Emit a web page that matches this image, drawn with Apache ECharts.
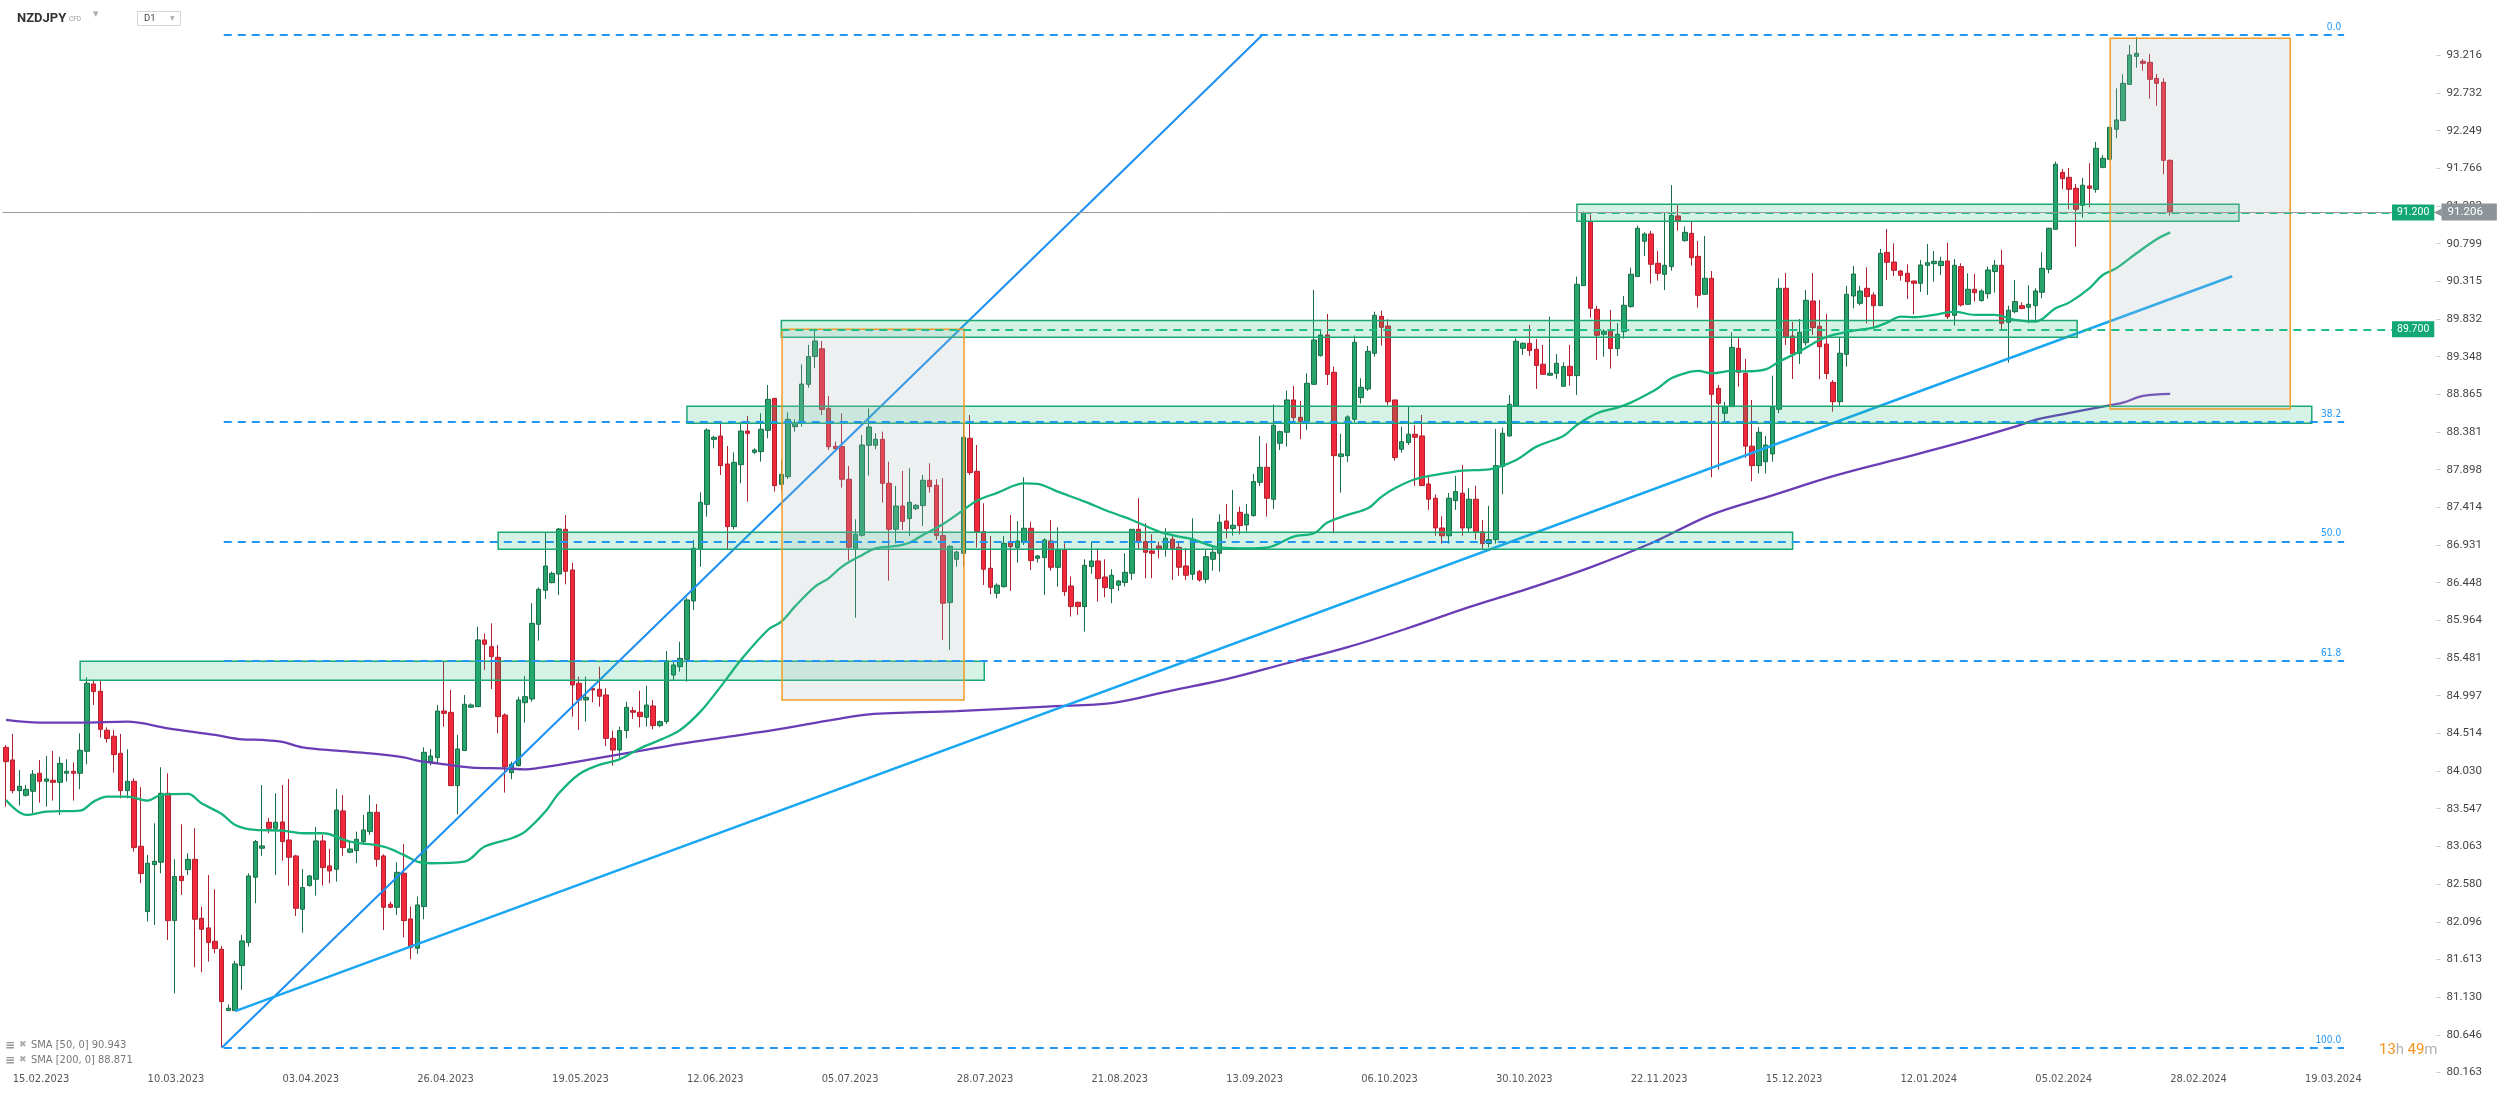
<!DOCTYPE html>
<html><head><meta charset="utf-8">
<script src="https://cdn.jsdelivr.net/npm/echarts@6/dist/echarts.min.js"></script>
<style>html,body{margin:0;padding:0;background:#fff;overflow:hidden}#c{width:2506px;height:1093px}</style>
</head><body><div id="c"></div>
<script>
// ---------- DATA ----------
const opens = [
84.335,84.173,83.779,83.719,83.771,84.002,83.899,83.912,83.886,84.002,
84.027,84.002,84.284,85.148,85.054,84.554,84.477,84.258,83.779,83.899,
83.065,82.227,82.830,82.860,83.745,82.111,82.680,82.766,82.898,82.141,
82.017,81.846,81.743,80.956,80.956,81.534,81.829,82.667,83.040,83.373,
83.296,83.377,83.146,82.941,82.257,82.560,82.641,83.134,82.813,82.770,
83.519,82.988,83.009,83.125,83.253,83.501,82.941,82.321,82.282,82.719,
82.133,81.756,82.291,84.151,84.203,84.801,84.784,83.843,84.293,84.849,
84.857,85.713,85.627,85.490,84.750,84.010,84.100,84.908,84.955,85.914,
86.350,86.448,86.559,87.133,86.611,85.157,84.943,85.092,85.080,85.007,
84.45,84.30,84.55,84.806,84.785,84.720,84.866,84.613,84.665,85.263,
85.370,85.464,86.213,86.876,87.453,88.287,88.330,87.971,87.167,87.962,
88.394,88.121,88.129,88.403,88.813,87.710,87.808,88.450,88.493,88.993,
89.35,89.45,88.685,88.198,88.194,87.775,86.889,87.056,88.211,88.211,
88.288,87.723,87.133,87.432,87.270,87.398,87.437,87.762,87.698,87.052,
86.192,86.748,86.825,88.301,87.877,87.103,86.633,86.312,86.397,86.962,
86.898,86.962,87.146,86.761,86.770,86.983,86.645,86.868,86.406,86.196,
86.141,86.654,86.727,86.521,86.372,86.415,86.45,86.569,87.133,86.975,
86.855,86.919,86.881,87.005,86.902,86.663,86.556,86.590,86.491,86.748,
86.825,87.240,87.142,87.351,87.189,87.308,87.736,87.929,87.518,88.237,
88.378,88.793,88.570,88.515,88.994,89.362,89.627,89.148,88.066,88.078,
88.545,88.823,88.934,89.391,89.866,89.742,88.793,88.160,88.246,88.353,
88.331,87.715,87.532,87.15,87.05,87.501,87.596,87.15,87.519,87.10,
86.95,87.00,87.938,88.331,88.716,89.456,89.520,89.443,89.251,89.110,
89.135,88.968,89.225,89.105,90.260,91.077,89.956,89.636,89.674,89.452,
89.670,89.991,90.376,90.829,90.923,90.547,90.405,90.504,91.154,90.837,
90.931,90.636,90.149,90.354,88.942,88.622,88.707,89.456,89.135,88.20,
87.95,88.00,88.10,88.673,90.226,89.614,89.392,89.528,90.063,89.738,
89.511,89.019,88.771,89.379,90.127,90.033,90.226,90.140,90.003,90.687,
90.563,90.448,90.418,90.320,90.290,90.521,90.542,90.517,90.577,89.879,
90.504,90.021,90.213,90.068,90.157,90.440,90.521,89.790,89.926,90.003,
89.982,90.003,90.175,90.470,90.983,91.714,91.650,91.509,91.291,91.539,
91.496,91.778,91.881,92.266,92.377,92.843,93.203,93.139,93.126,92.920,
92.869,91.868];
const highs = [
84.365,84.506,84.044,83.852,84.044,84.173,84.224,84.288,84.215,84.182,
84.143,84.515,85.234,85.199,85.191,84.592,84.558,84.506,84.310,83.938,
83.822,82.954,83.360,84.079,84.002,82.898,83.347,82.975,83.296,82.291,
82.697,82.513,81.786,81.033,81.594,81.927,82.718,83.146,83.852,83.429,
83.745,83.852,83.929,82.954,82.774,82.697,83.313,83.211,83.031,83.801,
83.724,83.125,83.253,83.467,83.724,83.608,82.962,82.355,82.860,83.095,
82.291,82.419,84.335,84.314,84.879,85.435,85.071,84.494,85.007,84.900,
85.884,85.798,85.926,85.648,84.772,84.151,84.985,85.251,86.183,86.388,
87.090,86.589,87.150,87.316,86.705,85.242,85.242,85.105,85.370,85.092,
84.55,84.60,84.921,84.85,85.062,85.126,84.943,84.678,85.571,85.447,
85.691,86.256,86.996,87.607,88.429,88.334,88.493,88.202,88.121,88.514,
88.587,88.172,88.621,88.985,88.813,88.031,88.634,88.544,89.25,89.50,
89.68,89.55,88.843,88.257,88.621,87.946,87.261,88.343,88.686,88.365,
88.386,88.001,87.689,87.882,87.916,87.458,87.830,87.980,87.775,87.788,
86.932,86.859,88.502,88.600,88.215,87.467,87.047,86.440,87.047,87.317,
87.240,87.800,87.231,86.804,87.018,87.253,87.159,86.953,86.526,86.205,
86.748,86.975,86.889,86.748,86.620,86.483,86.825,87.133,87.531,87.210,
87.069,86.975,87.146,87.069,86.962,86.889,87.274,86.611,86.868,86.919,
87.326,87.458,87.638,87.424,87.458,87.843,88.331,88.237,88.737,88.399,
88.913,88.972,88.780,89.135,90.204,89.691,89.896,89.220,88.357,88.596,
89.618,89.071,89.486,89.926,89.939,89.828,88.793,88.451,88.707,88.472,
88.601,87.818,87.58,87.30,87.60,87.818,87.959,87.660,87.690,87.25,
87.433,88.421,88.438,88.857,89.584,89.533,89.755,89.576,89.499,89.862,
89.383,89.276,89.499,90.376,91.210,91.175,89.999,89.700,89.948,89.777,
90.128,90.491,91.030,90.944,90.962,90.705,91.201,91.55,91.30,91.021,
91.077,90.833,90.897,90.448,88.985,88.767,89.661,89.584,89.319,88.793,
88.442,88.331,89.105,90.354,90.422,89.794,89.832,90.204,90.422,90.076,
89.896,89.05,89.593,90.256,90.512,90.256,90.495,90.174,90.730,90.987,
90.803,90.461,90.533,90.320,90.589,90.794,90.705,90.632,90.812,90.602,
90.547,90.418,90.410,90.213,90.504,90.589,90.718,90.003,90.333,90.046,
90.264,90.226,90.688,91.004,91.851,91.757,91.770,91.565,91.642,91.830,
92.104,91.937,92.292,92.792,92.972,93.348,93.45,93.169,93.233,92.976,
92.920,91.881];
const lows = [
83.574,83.745,83.587,83.702,83.489,83.625,83.574,83.651,83.467,83.895,
83.651,83.797,84.117,84.879,84.459,84.395,84.010,83.681,83.681,82.997,
82.590,82.099,82.056,82.719,81.863,81.179,82.441,82.697,81.513,81.448,
81.585,81.692,80.486,80.956,80.956,81.222,81.778,82.334,82.941,83.232,
82.697,82.881,82.560,82.171,81.957,82.548,82.432,82.560,82.590,82.612,
82.941,82.975,82.847,83.082,83.210,82.804,81.991,82.269,82.184,81.897,
81.615,81.684,82.128,84.100,84.121,84.600,83.843,83.476,84.293,84.849,
84.857,85.328,85.084,84.515,83.754,83.925,84.087,84.652,84.921,85.704,
86.239,86.440,86.290,86.427,84.729,84.558,84.665,84.913,84.857,84.35,
84.10,84.20,84.45,84.70,84.592,84.600,84.566,84.592,84.635,85.199,
85.306,85.178,86.098,86.653,87.295,88.172,87.830,86.880,87.133,87.723,
87.488,88.095,88.001,88.300,87.616,87.624,87.778,88.386,88.45,88.95,
89.20,88.60,88.150,88.150,87.668,86.731,85.999,87.039,87.822,88.160,
87.475,86.474,86.953,87.125,87.048,87.381,87.176,87.604,86.996,85.713,
85.585,86.654,86.654,87.830,86.898,86.419,86.299,86.248,86.385,86.342,
86.705,86.932,86.611,86.705,86.291,86.603,86.397,86.278,86.013,86.034,
85.820,86.560,86.205,86.260,86.184,86.342,86.40,86.483,86.868,86.504,
86.504,86.761,86.782,86.483,86.534,86.483,86.483,86.462,86.440,86.603,
86.590,87.018,87.052,87.069,87.103,87.296,87.689,87.296,87.394,88.151,
88.194,88.502,88.288,88.408,88.985,89.349,88.985,87.082,87.604,87.997,
88.506,88.746,88.908,89.349,89.490,88.729,88.015,88.117,88.216,87.690,
87.694,87.382,87.05,86.95,86.95,87.382,87.05,87.10,87.00,86.88,
86.90,86.95,87.583,88.323,88.716,89.370,89.358,88.934,89.122,89.101,
89.063,88.968,88.977,88.857,90.260,89.850,89.306,89.349,89.195,89.358,
89.580,89.978,90.376,90.641,90.286,90.324,90.204,90.452,90.966,90.824,
90.516,89.977,90.140,87.80,87.90,88.50,88.707,88.964,88.05,87.75,
87.85,87.85,88.00,88.622,89.498,89.062,89.255,89.490,89.627,89.058,
89.058,88.643,88.720,89.220,89.969,90.007,89.776,89.721,90.003,90.332,
90.384,90.324,90.089,89.892,90.179,90.140,90.311,90.397,89.832,89.747,
89.991,90.012,90.055,90.055,90.093,90.170,89.700,89.272,89.905,89.965,
89.777,89.820,90.098,90.418,90.983,91.500,91.240,90.761,91.133,91.265,
91.453,91.766,91.881,92.151,92.377,92.843,93.057,93.019,92.660,92.570,
91.689,91.158];
const closes = [
84.151,83.779,83.835,83.796,83.989,83.899,83.929,83.886,84.130,84.027,
84.002,84.297,85.157,85.050,84.566,84.447,84.241,83.779,83.899,83.048,
82.714,82.847,82.872,83.745,82.111,82.676,82.624,82.898,82.128,82.000,
81.829,81.752,81.072,80.986,81.555,81.850,82.684,83.125,83.070,83.296,
83.373,83.125,82.924,82.269,82.535,82.684,83.134,82.791,82.749,83.531,
83.048,83.031,83.155,83.275,83.501,82.898,82.282,82.282,82.731,82.111,
81.765,82.312,84.271,84.224,84.801,84.771,83.843,84.314,84.887,84.879,
85.713,85.657,85.499,84.729,84.087,84.117,84.943,84.985,85.926,86.363,
86.662,86.568,87.137,86.594,85.135,84.943,84.977,85.071,84.990,84.45,
84.30,84.55,84.849,84.785,84.729,84.878,84.613,84.665,85.443,85.392,
85.477,86.226,86.889,87.479,88.407,88.313,87.950,87.167,87.992,88.394,
88.364,88.151,88.416,88.801,87.693,87.838,88.544,88.501,88.997,89.35,
89.55,88.672,88.193,88.168,87.775,86.902,87.069,88.215,88.446,88.288,
87.723,87.133,87.432,87.236,87.480,87.441,87.762,87.681,87.052,86.184,
86.915,86.842,88.314,87.860,87.103,86.620,86.389,86.415,86.953,86.911,
86.983,87.146,86.731,86.791,86.996,86.645,86.868,86.333,86.141,86.141,
86.671,86.727,86.500,86.385,86.543,86.470,86.581,87.133,86.975,86.838,
86.825,86.881,87.018,86.881,86.646,86.543,87.005,86.483,86.782,86.838,
87.223,87.142,87.185,87.180,87.326,87.745,87.929,87.531,88.468,88.386,
88.793,88.566,88.515,89.007,89.563,89.627,89.122,88.078,88.100,88.575,
89.533,88.955,89.417,89.879,89.725,88.771,88.053,88.258,88.353,88.314,
87.694,87.519,87.15,87.05,87.532,87.617,87.15,87.519,87.10,86.95,
87.00,87.950,88.365,88.737,89.546,89.520,89.426,89.234,89.122,89.135,
89.264,89.221,89.105,90.277,91.197,89.969,89.623,89.674,89.452,89.636,
90.008,90.406,90.996,90.923,90.534,90.418,90.521,91.162,91.094,90.944,
90.619,90.136,90.354,88.865,88.750,88.707,89.468,89.148,88.20,87.95,
88.378,88.215,88.699,90.226,89.605,89.387,89.661,90.072,89.721,89.477,
89.131,88.771,89.392,90.149,90.409,90.191,90.119,90.003,90.675,90.559,
90.457,90.392,90.311,90.290,90.525,90.555,90.572,90.572,89.862,90.521,
90.012,90.213,90.170,90.192,90.461,90.521,89.777,89.944,90.055,89.965,
90.021,90.192,90.482,90.996,91.817,91.633,91.496,91.240,91.548,91.509,
92.022,91.894,92.292,92.386,92.856,93.220,93.241,93.113,92.908,92.856,
91.868,91.206];

// SMA lines read at sample candles: [candle index, value]
const sma50 = [[0,83.660],[3,83.467],[6,83.510],[11,83.523],[13,83.638],[15,83.702],[18,83.702],[21,83.651],[23,83.724],[27,83.737],[29,83.617],[32,83.480],[34,83.339],[37,83.275],[41,83.266],[44,83.232],[47,83.232],[51,83.125],[56,83.061],[59,82.954],[61,82.868],[63,82.847],[68,82.868],[71,83.061],[75,83.168],[77,83.253],[80,83.510],[82,83.745],[85,83.99],[88,84.11],[91,84.18],[94,84.32],[97,84.43],[100,84.558],[103,84.793],[106,85.114],[109,85.456],[113,85.841],[115,85.948],[117,86.140],[120,86.397],[122,86.504],[124,86.654],[127,86.804],[129,86.889],[132,86.919],[134,86.96],[136,87.06],[139,87.20],[142,87.38],[144,87.50],[147,87.60],[151,87.723],[153,87.715],[156,87.616],[160,87.488],[163,87.381],[165,87.317],[167,87.253],[171,87.103],[174,87.039],[176,87.005],[180,86.898],[184,86.889],[187,86.898],[191,87.039],[194,87.082],[196,87.219],[199,87.317],[202,87.402],[204,87.55],[206,87.66],[209,87.775],[212,87.831],[216,87.886],[220,87.903],[224,88.023],[227,88.194],[231,88.331],[233,88.472],[236,88.622],[239,88.695],[241,88.759],[244,88.891],[245,88.943],[247,89.071],[249,89.135],[251,89.165],[253,89.135],[256,89.165],[258,89.16],[261,89.186],[263,89.285],[266,89.413],[269,89.563],[271,89.627],[274,89.682],[277,89.721],[279,89.785],[281,89.862],[283,89.854],[286,89.884],[289,89.927],[292,89.884],[295,89.884],[298,89.820],[301,89.798],[304,89.970],[306,90.042],[309,90.226],[311,90.397],[313,90.482],[316,90.675],[319,90.855],[321,90.943]];
const sma200 = [[0,84.686],[5,84.652],[11,84.652],[18,84.665],[24,84.579],[31,84.494],[35,84.438],[38,84.430],[41,84.404],[44,84.335],[49,84.292],[54,84.258],[59,84.207],[61,84.164],[64,84.130],[69,84.075],[74,84.066],[77,84.053],[79,84.07],[82,84.11],[88,84.20],[94,84.29],[100,84.38],[107,84.47],[114,84.558],[123,84.694],[128,84.758],[141,84.800],[155,84.861],[164,84.902],[173,85.066],[181,85.209],[190,85.414],[199,85.620],[208,85.866],[217,86.133],[226,86.378],[235,86.645],[244,86.953],[253,87.321],[262,87.568],[271,87.814],[280,88.020],[289,88.225],[298,88.45],[301,88.537],[305,88.609],[311,88.708],[314,88.759],[317,88.845],[321,88.871]];

// axis labels
const dateLabels = ['15.02.2023','10.03.2023','03.04.2023','26.04.2023','19.05.2023','12.06.2023','05.07.2023','28.07.2023','21.08.2023','13.09.2023','06.10.2023','30.10.2023','22.11.2023','15.12.2023','12.01.2024','05.02.2024','28.02.2024','19.03.2024'];
const dateLabelIdx = [1,21,41,61,81,101,121,141,161,181,201,221,241,261,281,301,321,341];
const priceTicks = ['80.163','80.646','81.130','81.613','82.096','82.580','83.063','83.547','84.030','84.514','84.997','85.481','85.964','86.448','86.931','87.414','87.898','88.381','88.865','89.348','89.832','90.315','90.799','91.283','91.766','92.249','92.732','93.216'];

// drawings: zones [fromIdx, toIdx, low, high], boxes, trend lines, fib
const zones = [[11.0,145.1,85.195,85.439],[73.0,265.0,86.876,87.094],[101.0,342.0,88.493,88.711],[115.0,307.2,89.597,89.811],[233.0,331.2,91.086,91.304]];
const boxes = [[115.1,142.1,84.943,89.70],[312.1,338.8,88.677,93.434]];
const steepTrend = [[32,80.48],[186.3,93.474]];
const baseTrend = [[34,80.95],[330.2,90.38]];
const fibHigh = 93.474, fibLow = 80.476, fibFrom = 32.3, fibTo = 346.8;
const fibLevels = [0, 38.2, 50, 61.8, 100];
const levelLines = [[234, 353.9, 91.200], [115, 353.9, 89.700]];
const lastPrice = 91.206;
const smaLegend = ['SMA [50, 0] 90.943', 'SMA [200, 0] 88.871'];

// ---------- CHART ----------
const candleData = opens.map((o, i) => [i, o, closes[i], lows[i], highs[i]]);
const tickVals = priceTicks.map(Number);
const condensed = '"DejaVu Sans Condensed","Liberation Sans Narrow",sans-serif';

const zoneItems = zones.map(z => [
  {coord: [z[0], z[3]], itemStyle: {color: 'rgba(24,186,120,0.19)', borderColor: '#1aa872', borderWidth: 1.5}},
  {coord: [z[1], z[2]]}
]);
const boxItems = boxes.map(b => [
  {coord: [b[0], b[3]], itemStyle: {color: 'rgba(170,186,192,0.22)', borderColor: '#f59b25', borderWidth: 1.5}},
  {coord: [b[1], b[2]]}
]);
const fibItems = fibLevels.map(l => {
  const p = fibHigh - l / 100 * (fibHigh - fibLow);
  return [
    {coord: [fibFrom, p], lineStyle: {color: '#2196f3', width: 2, type: [8, 6]},
     label: {show: true, formatter: l.toFixed(1), position: 'insideEndTop', distance: 3, color: '#2196f3', fontSize: 10, fontFamily: condensed}},
    {coord: [fibTo, p]}
  ];
});
const levelItems = levelLines.map(l => [
  {coord: [l[0], l[2]], lineStyle: {color: '#1fbf88', width: 2, type: [8, 6]},
   label: {show: true, position: 'end', distance: 0, formatter: l[2].toFixed(3), color: '#fff', backgroundColor: '#11a874', padding: [3, 5, 2, 5], fontSize: 10.5, fontFamily: 'Roboto'}},
  {coord: [l[1], l[2]]}
]);
const priceItem = [
  {coord: [-0.5, lastPrice], lineStyle: {color: '#9a9a9a', width: 1, type: 'solid'},
   label: {show: true, position: 'end', distance: -3, formatter: '{a|◀}{b|' + lastPrice.toFixed(3) + '}',
     rich: {a: {color: '#8c9499', fontSize: 10, padding: [0, 0, 0, 0]},
            b: {color: '#fff', backgroundColor: '#8c9499', fontSize: 11.5, padding: [3, 14, 2, 6], fontFamily: 'Roboto'}}}},
  {coord: [360.5, lastPrice]}
];

const option = {
  animation: false,
  backgroundColor: '#fff',
  grid: {left: 2.63, right: 69.5, top: 0, bottom: 20.6, containLabel: false},
  xAxis: {
    type: 'value', min: -0.5, max: 360.5,
    axisLine: {show: false, onZero: false}, axisTick: {show: false}, splitLine: {show: false},
    axisLabel: {
      customValues: dateLabelIdx,
      formatter: v => { const k = dateLabelIdx.indexOf(Math.round(v)); return k >= 0 ? dateLabels[k] : ''; },
      align: 'left', color: '#555', fontSize: 11, margin: 1, fontFamily: condensed
    }
  },
  yAxis: {
    type: 'value', position: 'right', min: 80.163, max: 93.9257, scale: true,
    axisLine: {show: false, onZero: false}, splitLine: {show: false},
    axisTick: {show: true, customValues: tickVals, length: 4, lineStyle: {color: '#c8c8c8'}},
    axisLabel: {
      customValues: tickVals,
      formatter: v => { let best = '', d = 1e9; priceTicks.forEach(t => { const dd = Math.abs(Number(t) - v); if (dd < d) { d = dd; best = t; } }); return d < 0.01 ? best : ''; },
      color: '#444', fontSize: 11.5, margin: 10, fontFamily: 'Roboto'
    }
  },
  series: [
    {
      type: 'candlestick', data: candleData, encode: {x: 0, y: [1, 2, 3, 4]},
      barWidth: 5, z: 2,
      itemStyle: {color: '#26a46b', color0: '#f2293b', borderColor: '#176e47', borderColor0: '#b01f2e', borderWidth: 1}
    },
    {
      type: 'line', data: sma200, smooth: 0.35, showSymbol: false, z: 3,
      lineStyle: {color: '#6a3db6', width: 2.3}
    },
    {
      type: 'line', data: sma50, smooth: 0.35, showSymbol: false, z: 3,
      lineStyle: {color: '#14b37a', width: 2.3}
    },
    {
      type: 'line', data: steepTrend, showSymbol: false, z: 4,
      lineStyle: {color: '#1b8ef2', width: 2},
      markArea: {silent: true, z: 5, label: {show: false}, data: zoneItems.concat(boxItems)}
    },
    {
      type: 'line', data: baseTrend, showSymbol: false, z: 4,
      lineStyle: {color: '#1aa7f2', width: 2.5},
      markLine: {silent: true, z: 6, symbol: ['none', 'none'], precision: 3,
        data: fibItems.concat(levelItems).concat([priceItem])}
    }
  ],
  graphic: [
    {type: 'text', x: 17, y: 12, style: {text: 'NZDJPY', fill: '#333', font: 'bold 13px Roboto'}},
    {type: 'text', x: 69, y: 15.5, style: {text: 'CFD', fill: '#9a9a9a', font: '6.5px Roboto'}},
    {type: 'text', x: 93, y: 11, style: {text: '▼', fill: '#aaa', font: '7px "DejaVu Sans"'}},
    {type: 'rect', shape: {x: 137.5, y: 11.5, width: 43, height: 14}, style: {fill: '#fff', stroke: '#d5d5d5', lineWidth: 1}},
    {type: 'text', x: 144, y: 14, style: {text: 'D1', fill: '#444', font: '9.5px Roboto'}},
    {type: 'text', x: 170, y: 15, style: {text: '▼', fill: '#aaa', font: '6px "DejaVu Sans"'}},
    {type: 'text', x: 5, y: 1040, style: {text: '≡', fill: '#999', font: 'bold 12px "DejaVu Sans"'}},
    {type: 'text', x: 19, y: 1040, style: {text: '✖', fill: '#aaa', font: '9px "DejaVu Sans"'}},
    {type: 'text', x: 31, y: 1040, style: {text: smaLegend[0], fill: '#777', font: '11px ' + condensed}},
    {type: 'text', x: 5, y: 1055, style: {text: '≡', fill: '#999', font: 'bold 12px "DejaVu Sans"'}},
    {type: 'text', x: 19, y: 1055, style: {text: '✖', fill: '#aaa', font: '9px "DejaVu Sans"'}},
    {type: 'text', x: 31, y: 1055, style: {text: smaLegend[1], fill: '#777', font: '11px ' + condensed}},
    {type: 'text', x: 2379, y: 1043, style: {text: '{o|13}{g|h} {o|49}{g|m}',
      rich: {o: {fill: '#f7931e', fontSize: 15, fontFamily: 'Roboto'}, g: {fill: '#b0b0b0', fontSize: 15, fontFamily: 'Roboto'}}}}
  ]
};
const chart = echarts.init(document.getElementById('c'), null, {renderer: 'canvas', width: 2506, height: 1093});
chart.setOption(option);
</script>
</body></html>
